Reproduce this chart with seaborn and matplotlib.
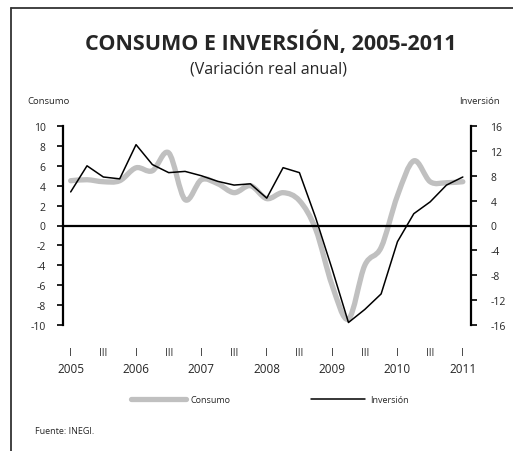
import matplotlib
matplotlib.use("Agg")
from matplotlib import pyplot as plt
from matplotlib.path import Path
from matplotlib.patches import PathPatch
from matplotlib.lines import Line2D
import matplotlib.transforms as mtransforms
import seaborn as sns
import numpy as np

sns.set_style("white")
plt.rcParams['font.family'] = ['Open Sans', 'DejaVu Sans']
plt.rcParams['axes.unicode_minus'] = False

# quarterly data, 2005-I .. 2011-I
years = [2005, 2006, 2007, 2008, 2009, 2010, 2011]
consumo = [4.5, 4.6, 4.4, 4.5, 5.8, 5.5, 7.3, 2.6, 4.6, 4.2, 3.3, 4.0, 2.7,
           3.3, 2.5, -0.4, -6.0, -9.4, -4.0, -2.2, 3.0, 6.5, 4.4, 4.3, 4.4]
inversion = [5.4, 9.6, 7.8, 7.5, 13.0, 9.8, 8.5, 8.7, 8.0, 7.1, 6.5, 6.7, 4.4,
             9.3, 8.5, 1.2, -7.0, -15.6, -13.5, -11.0, -2.6, 1.9, 3.8, 6.5, 7.8]
quarter = np.arange(len(consumo))

gris = '#c0c0c0'

fig = plt.figure(figsize=(5.13, 4.52), dpi=100)
ax = fig.add_axes([62.5 / 513, 1 - 326 / 452, 408.5 / 513, 199 / 452])
ax2 = ax.twinx()

# consumo: smoothed line (Excel style) through the quarterly values
pts = np.column_stack([quarter, consumo])
ext = np.vstack([pts[0], pts, pts[-1]])
verts = [tuple(pts[0])]
codes = [Path.MOVETO]
for i in range(len(pts) - 1):
    p0, p1, p2, p3 = ext[i], ext[i + 1], ext[i + 2], ext[i + 3]
    verts += [tuple(p1 + (p2 - p0) / 6), tuple(p2 - (p3 - p1) / 6), tuple(p2)]
    codes += [Path.CURVE4] * 3
ax.add_patch(PathPatch(Path(verts, codes), facecolor='none', edgecolor=gris,
                       lw=3.8, capstyle='round', joinstyle='round'))

sns.lineplot(x=quarter, y=inversion, ax=ax2, color='black', lw=1.1)

ax.set_xlim(-0.5, len(consumo) - 0.5)
ax.set_ylim(-10, 10)
ax2.set_ylim(-16, 16)
ax.set_yticks(range(-10, 11, 2))
ax2.set_yticks(range(-16, 17, 4))

for s in ['top', 'right']:
    ax.spines[s].set_visible(False)
for s in ['top', 'left', 'bottom']:
    ax2.spines[s].set_visible(False)
ax.spines['bottom'].set_position(('data', 0))
for sp in [ax.spines['left'], ax.spines['bottom'], ax2.spines['right']]:
    sp.set_linewidth(1.6)
    sp.set_color('black')

ax.set_xticks(np.arange(0.5, len(consumo) - 1, 1))
ax.set_xticklabels([])
ax.tick_params(axis='x', direction='out', length=4, width=1.2, color='black')
ax.tick_params(axis='y', direction='out', length=4, width=1.2, color='black',
               labelsize=7.5, pad=8)
ax2.tick_params(axis='y', direction='out', length=4, width=1.2, color='black',
                labelsize=7.5, pad=10)
ax.set_xlabel('')
ax.set_ylabel('')
ax2.set_ylabel('')

# quarter / year labels below the plot
trans = mtransforms.blended_transform_factory(ax.transData, ax.transAxes)
for i in range(0, len(consumo), 2):
    ax.text(i, -0.14, 'I' if i % 4 == 0 else 'III', transform=trans,
            ha='center', va='center', fontsize=7)
    if i % 4 == 0:
        ax.text(i, -0.22, str(years[i // 4]), transform=trans,
                ha='center', va='center', fontsize=8.5)

fig.text(271 / 513, 1 - 43 / 452, 'CONSUMO E INVERSIÓN, 2005-2011',
         ha='center', va='center', fontsize=15.5, fontweight='bold')
fig.text(269 / 513, 1 - 69 / 452, '(Variación real anual)',
         ha='center', va='center', fontsize=11.5)
fig.text(27 / 513, 1 - 102 / 452, 'Consumo', ha='left', va='center',
         fontsize=6.8)
fig.text(500 / 513, 1 - 102 / 452, 'Inversión', ha='right', va='center',
         fontsize=6.8)
fig.text(35 / 513, 1 - 432 / 452, 'Fuente: INEGI.', ha='left', va='center',
         fontsize=6.5)

handles = [Line2D([], [], color=gris, lw=3.8),
           Line2D([], [], color='black', lw=1.1)]
fig.legend(handles, ['Consumo', 'Inversión'], loc='center',
           bbox_to_anchor=(270 / 513, 1 - 401 / 452), ncol=2, frameon=False,
           fontsize=6.5, handlelength=6, columnspacing=9, handletextpad=0.5)

# outer frame (left and top edges)
fig.add_artist(Line2D([10.5 / 513, 10.5 / 513], [0, 1 - 9 / 452],
                      transform=fig.transFigure, color='#333333', lw=1.3))
fig.add_artist(Line2D([10.5 / 513, 1], [1 - 9 / 452, 1 - 9 / 452],
                      transform=fig.transFigure, color='#333333', lw=1.3))

plt.savefig('out.png', dpi=100)
